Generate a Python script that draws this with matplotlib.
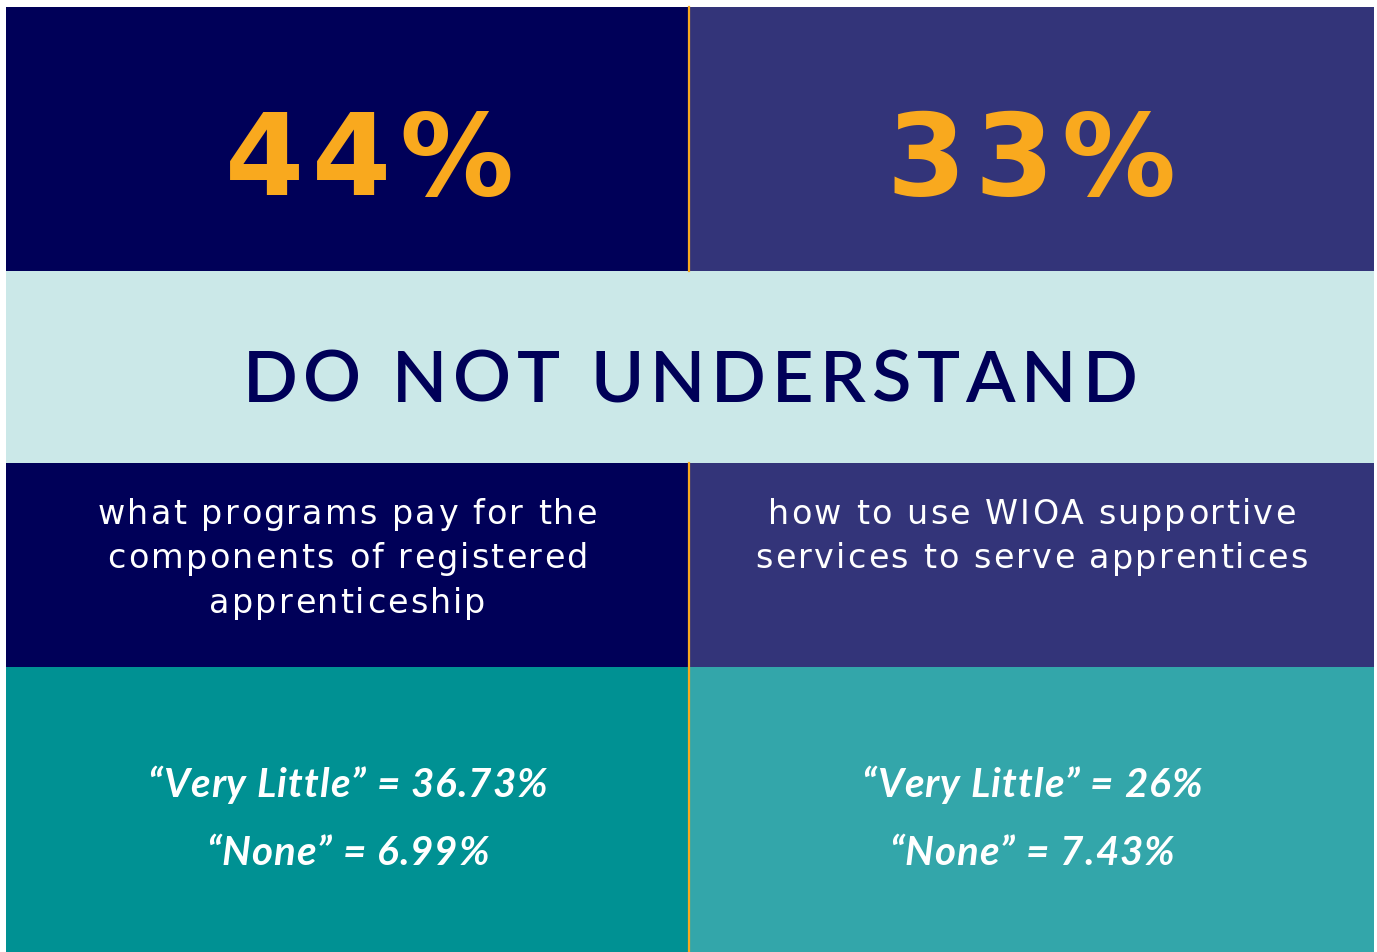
import matplotlib.pyplot as plt
from matplotlib.patches import Rectangle

# data
big_numbers = ["44%", "33%"]
headline = "DO NOT UNDERSTAND"
topics = [["what programs pay for the", "components of registered", "apprenticeship"],
          ["how to use WIOA supportive", "services to serve apprentices"]]
very_little = ["36.73%", "26%"]
none_vals = ["6.99%", "7.43%"]

navy = "#000058"
purple = "#333479"
light = "#cbe8e8"
teal_l = "#009193"
teal_r = "#33a6aa"
orange = "#f9a91e"

W, H = 1377, 952
fig = plt.figure(figsize=(W / 100, H / 100), dpi=100)
ax = fig.add_axes([0, 0, 1, 1])
ax.set_xlim(0, W)
ax.set_ylim(H, 0)
ax.axis("off")
rend = fig.canvas.get_renderer()


def width(t, kw):
    if not t:
        return 0
    a = ax.text(0, 0, t + "|", **kw)
    b = ax.text(0, 0, "|", **kw)
    w = a.get_window_extent(rend).width - b.get_window_extent(rend).width
    a.remove()
    b.remove()
    return w


def tracked(x, y, s, track, **kw):
    # centred text with extra letter spacing (px)
    total = width(s, kw) + track * (len(s) - 1)
    start = x - total / 2
    for i, ch in enumerate(s):
        if ch == " ":
            continue
        ax.text(start + width(s[:i], kw) + track * i, y, ch,
                ha="left", va="baseline", **kw)


x0, xm, x1 = 6, 689, 1374
rows = [7, 271, 463, 667, 952]

# panels
ax.add_patch(Rectangle((x0, rows[0]), xm - x0, rows[1] - rows[0], color=navy, lw=0))
ax.add_patch(Rectangle((xm, rows[0]), x1 - xm, rows[1] - rows[0], color=purple, lw=0))
ax.add_patch(Rectangle((x0, rows[1]), x1 - x0, rows[2] - rows[1], color=light, lw=0))
ax.add_patch(Rectangle((x0, rows[2]), xm - x0, rows[3] - rows[2], color=navy, lw=0))
ax.add_patch(Rectangle((xm, rows[2]), x1 - xm, rows[3] - rows[2], color=purple, lw=0))
ax.add_patch(Rectangle((x0, rows[3]), xm - x0, rows[4] - rows[3], color=teal_l, lw=0))
ax.add_patch(Rectangle((xm, rows[3]), x1 - xm, rows[4] - rows[3], color=teal_r, lw=0))

# orange divider
ax.plot([xm, xm], [rows[0], rows[1]], color=orange, lw=1.6)
ax.plot([xm, xm], [rows[2], rows[4]], color=orange, lw=1.6)

big_kw = dict(color=orange, fontsize=82, fontweight="heavy", family="DejaVu Sans")
sub_kw = dict(color="white", fontsize=24, family="DejaVu Sans")
bot_kw = dict(color="white", fontsize=29, family="Lato", style="italic",
              fontweight="bold")

big_x = [369, 1031]
cx = [(x0 + xm) / 2, (xm + x1) / 2]
for i in range(2):
    tracked(big_x[i], 195, big_numbers[i], 8, **big_kw)
    for k, line in enumerate(topics[i]):
        tracked(cx[i], 524 + 44.5 * k, line, 2.2, **sub_kw)
    tracked(cx[i], 797, "\u201cVery Little\u201d = " + very_little[i], 1, **bot_kw)
    tracked(cx[i], 865, "\u201cNone\u201d = " + none_vals[i], 1, **bot_kw)

tracked((x0 + x1) / 2, 402, headline, 6, color=navy, fontsize=52, family="Lato",
        fontweight="semibold")

fig.savefig("out.png", dpi=100, facecolor="white")
